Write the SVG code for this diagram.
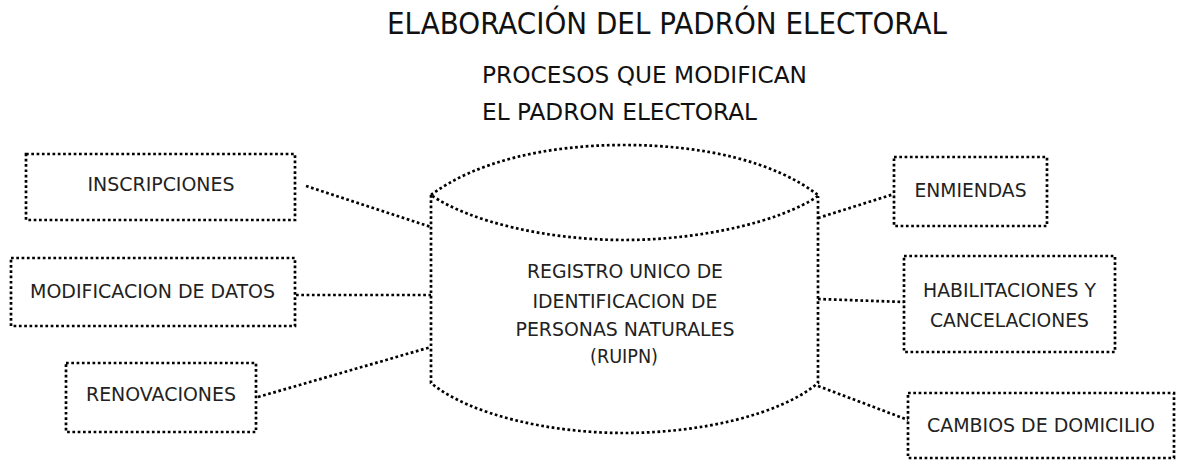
<svg xmlns="http://www.w3.org/2000/svg" width="1178" height="460" viewBox="0 0 1178 460">
<style>
.dot{fill:none;stroke:#000;stroke-width:2.7;stroke-dasharray:2.7 2.6}
.lbl{font-family:"DejaVu Sans","Liberation Sans",sans-serif;font-size:19.5px;fill:#222;text-anchor:middle}
.ttl{font-family:"DejaVu Sans","Liberation Sans",sans-serif;fill:#111}
</style>
<rect width="1178" height="460" fill="#fff"/>
<text class="ttl" x="667" y="34" font-size="30" text-anchor="middle" textLength="560" lengthAdjust="spacingAndGlyphs">ELABORACIÓN DEL PADRÓN ELECTORAL</text>
<text class="ttl" x="482" y="83" font-size="22.5" textLength="325" lengthAdjust="spacingAndGlyphs">PROCESOS QUE MODIFICAN</text>
<text class="ttl" x="482" y="120" font-size="22.5" textLength="275" lengthAdjust="spacingAndGlyphs">EL PADRON ELECTORAL</text>
<g id="connectors">
<line class="dot" x1="306" y1="186" x2="431" y2="227"/>
<line class="dot" x1="296" y1="295" x2="431" y2="295"/>
<line class="dot" x1="258" y1="397" x2="431" y2="347"/>
<line class="dot" x1="818" y1="218" x2="894" y2="194"/>
<line class="dot" x1="818" y1="299" x2="904" y2="302"/>
<line class="dot" x1="818" y1="386" x2="908" y2="420"/>
</g>
<g id="ruipn">
<path class="dot" d="M431,195 C475,162 545,145 624,145 C705,145 775,162 818,195"/>
<path class="dot" d="M818,196 C780,222 700,240 624,240 C548,240 470,222 431,195"/>
<path class="dot" d="M431,195 L431,383 C470,415 550,433 624,433 C700,433 780,415 818,383 L818,196"/>
<text class="lbl" x="625" y="278" font-size="20.5" textLength="196" lengthAdjust="spacingAndGlyphs">REGISTRO UNICO DE</text>
<text class="lbl" x="625" y="307.5" font-size="20.5" textLength="185" lengthAdjust="spacingAndGlyphs">IDENTIFICACION DE</text>
<text class="lbl" x="625" y="336" font-size="20.5" textLength="219" lengthAdjust="spacingAndGlyphs">PERSONAS NATURALES</text>
<text class="lbl" x="624" y="363" font-size="20.5" textLength="68" lengthAdjust="spacingAndGlyphs">(RUIPN)</text>
</g>
<g id="inscripciones">
<rect class="dot" x="26" y="154" width="269" height="66"/>
<text class="lbl" x="161" y="191" textLength="147" lengthAdjust="spacingAndGlyphs">INSCRIPCIONES</text>
</g>
<g id="modificacion">
<rect class="dot" x="11" y="258" width="284" height="68"/>
<text class="lbl" x="152.5" y="297.5" textLength="245" lengthAdjust="spacingAndGlyphs">MODIFICACION DE DATOS</text>
</g>
<g id="renovaciones">
<rect class="dot" x="66" y="363" width="190" height="69"/>
<text class="lbl" x="161" y="401" textLength="150" lengthAdjust="spacingAndGlyphs">RENOVACIONES</text>
</g>
<g id="enmiendas">
<rect class="dot" x="894" y="157" width="153" height="69"/>
<text class="lbl" x="970.5" y="197" textLength="112" lengthAdjust="spacingAndGlyphs">ENMIENDAS</text>
</g>
<g id="habilitaciones">
<rect class="dot" x="904" y="256" width="211" height="96"/>
<text class="lbl" x="1009.5" y="297" textLength="173" lengthAdjust="spacingAndGlyphs">HABILITACIONES Y</text>
<text class="lbl" x="1009.5" y="327" textLength="159" lengthAdjust="spacingAndGlyphs">CANCELACIONES</text>
</g>
<g id="cambios">
<rect class="dot" x="908" y="393" width="266" height="65"/>
<text class="lbl" x="1041" y="431.5" textLength="228" lengthAdjust="spacingAndGlyphs">CAMBIOS DE DOMICILIO</text>
</g>
</svg>
